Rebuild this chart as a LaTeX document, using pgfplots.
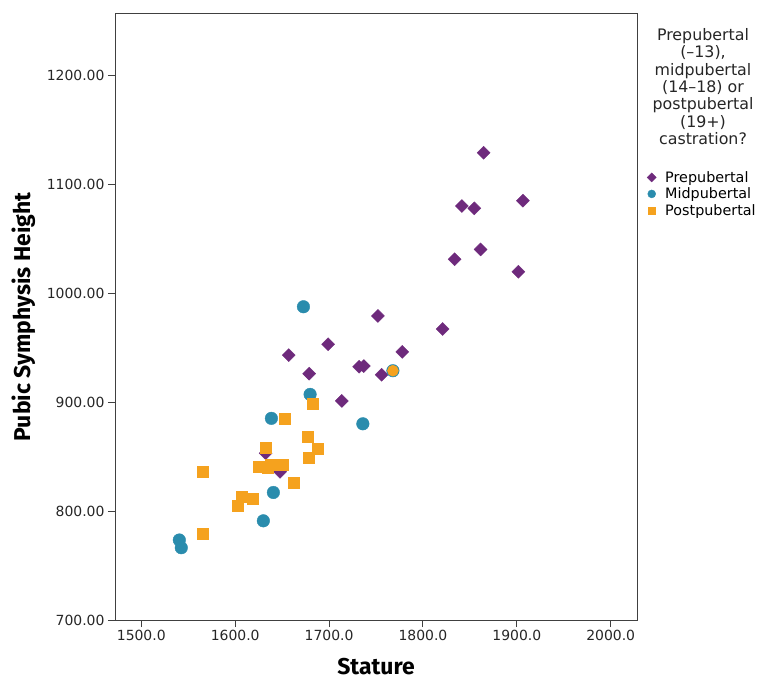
\documentclass[border=0pt]{standalone}
\usepackage{pgfplots}
\pgfplotsset{compat=1.18}
\usepackage{fontspec}
\setmainfont{DejaVu Sans}
\newfontfamily\labfont{Fira Sans}
\definecolor{prep}{HTML}{6E2A7C}
\definecolor{midp}{HTML}{2A8CAD}
\definecolor{postp}{HTML}{F5A21E}

\begin{document}
\begin{tikzpicture}
\begin{axis}[
    name=ax,
    at={(0,0)}, anchor=south west,
    scale only axis,
    width=522bp, height=606bp,
    xmin=1472, xmax=2028,
    ymin=700, ymax=1256,
    xtick={1500,1600,1700,1800,1900,2000},
    ytick={700,800,900,1000,1100,1200},
    xtick pos=bottom, ytick pos=left,
    tick align=outside,
    major tick length=7bp,
    axis line style={line width=1pt, black!75},
    tick style={line width=1pt, black!75},
    xticklabel style={/pgf/number format/.cd, fixed, fixed zerofill, precision=1, 1000 sep={}, assume math mode=true},
    yticklabel style={/pgf/number format/.cd, fixed, fixed zerofill, precision=2, 1000 sep={}, assume math mode=true},
    ticklabel style={font=\fontsize{14}{16}\selectfont, text=black!85},
    xlabel={\labfont\bfseries Stature},
    ylabel={\labfont\bfseries Pubic Symphysis Height},
    xlabel style={font=\fontsize{23}{26}\selectfont, at={(axis description cs:0.5,0)}, anchor=base, yshift=-54bp},
    ylabel style={font=\fontsize{23}{26}\selectfont, at={(axis description cs:0,0.5)}, anchor=base, yshift=84bp},
    legend style={draw=none, fill=none, at={(rel axis cs:1,1)}, anchor=north west,
        xshift=10bp, yshift=-155bp, font=\fontsize{14.4}{16}\selectfont,
        row sep=0bp, column sep=7bp, inner sep=0pt,
        cells={anchor=west, text height=11bp, text depth=5bp, inner sep=0pt}},
    legend cell align=left,
    clip=false,
]
% Prepubertal
\addplot[only marks, mark=square*, mark size=4.6bp, mark options={rotate=45}, color=prep,
    legend image code/.code={\draw[mark=square*, mark size=3.2bp, mark options={rotate=45, fill=prep, draw=prep}] plot coordinates {(0.2cm,0)};}]
coordinates {
(1864.6,1128.7) (1841.5,1079.8) (1854.7,1077.7) (1906.5,1084.7)
(1861.4,1040.0) (1833.7,1031.0) (1901.6,1019.5) (1821.0,967.0)
(1752.0,979.0) (1699.0,953.0) (1657.0,943.0) (1778.0,946.0)
(1732.0,932.4) (1737.0,933.0) (1678.8,926.0) (1756.0,925.0)
(1713.6,901.0) (1632.5,853.0) (1647.8,836.0)
};
\addlegendentry{Prepubertal}
% Midpubertal
\addplot[only marks, mark=*, mark size=6.3bp, color=midp,
    legend image code/.code={\draw[mark=*, mark size=4bp, mark options={fill=midp, draw=midp}] plot coordinates {(0.2cm,0)};}]
coordinates {
(1672.7,987.4) (1679.8,907.0) (1638.6,885.0) (1736.0,880.0)
(1640.7,817.0) (1630.0,791.0) (1540.5,773.4) (1542.6,766.3)
(1768.0,928.7)
};
\addlegendentry{Midpubertal}
% Postpubertal
\addplot[only marks, mark=square*, mark size=5.5bp, color=postp,
    legend image code/.code={\draw[mark=square*, mark size=3.5bp, mark options={fill=postp, draw=postp}] plot coordinates {(0.2cm,0)};}]
coordinates {
(1682.6,898.0) (1652.8,885.0) (1677.0,868.0) (1688.0,857.0)
(1632.5,858.0) (1678.0,849.0) (1565.0,836.0) (1625.0,840.6)
(1634.6,839.7) (1637.5,842.8) (1650.3,842.8) (1662.0,826.0)
(1606.6,812.8) (1618.7,811.6) (1602.6,804.6) (1565.0,779.5)
};
\addlegendentry{Postpubertal}
% overlapping postpubertal point drawn as a circle on the midpubertal one
\addplot[only marks, mark=*, mark size=5.5bp, color=postp, forget plot]
coordinates {(1768.0,928.7)};
\end{axis}
\node[anchor=north, align=center, inner sep=0pt, font=\fontsize{15.9}{17.5}\selectfont, text=black!85]
    at ([xshift=66bp, yshift=-14bp]ax.north east)
    {Prepubertal\\(--13),\\midpubertal\\(14--18) or\\postpubertal\\(19+)\\castration?};
\pgfresetboundingbox
\path[use as bounding box] ([xshift=-115bp, yshift=-59bp]ax.south west) rectangle ++(760bp,679bp);
\end{tikzpicture}
\end{document}
